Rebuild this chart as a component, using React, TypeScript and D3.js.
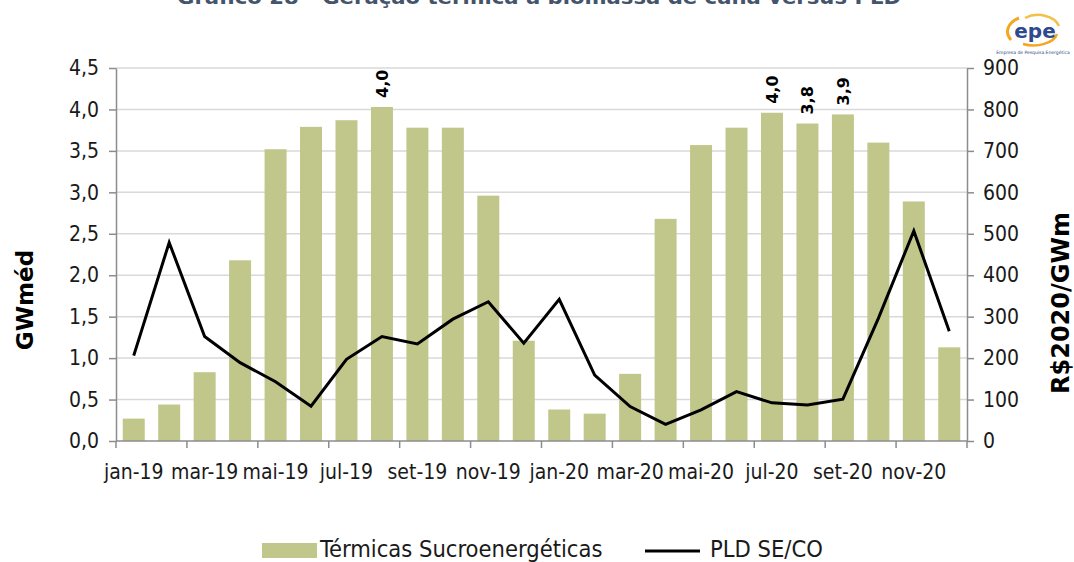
import { useEffect, useRef } from "react";
import * as d3 from "d3";

const months = [
    "jan-19", "fev-19", "mar-19", "abr-19", "mai-19", "jun-19", "jul-19", "ago-19", "set-19", "out-19", "nov-19", "dez-19",
    "jan-20", "fev-20", "mar-20", "abr-20", "mai-20", "jun-20", "jul-20", "ago-20", "set-20", "out-20", "nov-20", "dez-20",
];
// GWméd
const termicas = [
    0.27, 0.44, 0.83, 2.18, 3.52, 3.79, 3.87, 4.03, 3.78, 3.78, 2.96, 1.21,
    0.38, 0.33, 0.81, 2.68, 3.57, 3.78, 3.96, 3.83, 3.94, 3.60, 2.89, 1.13,
];
// R$2020/GWm
const pld = [
    206, 479, 252, 189, 143, 84, 197, 252, 234, 294, 336, 236,
    342, 159, 83, 40, 75, 119, 92, 87, 101, 296, 507, 265,
];
const labeledMonths = ["ago-19", "jul-20", "ago-20", "set-20"];
const leftTicks = [0, 0.5, 1, 1.5, 2, 2.5, 3, 3.5, 4, 4.5];
const rightTicks = [0, 100, 200, 300, 400, 500, 600, 700, 800, 900];

const BAR = "#c1c68b";
const AXIS = "#8c8c8c";
const GRID = "#d9d9d9";
const FONT = "'DejaVu Sans Condensed', 'DejaVu Sans', sans-serif";

export default function App() {
    const svgRef = useRef<SVGSVGElement>(null);

    useEffect(() => {
        if (!svgRef.current) return;
        const svg = d3.select(svgRef.current);
        svg.selectAll("*").remove();

        const W = 1074, H = 562;
        const left = 116, right = 967, top = 68, bottom = 441;

        const x = d3.scaleBand().domain(months).range([left, right]).paddingInner(0.38).paddingOuter(0.19);
        const yL = d3.scaleLinear().domain([0, 4.5]).range([bottom, top]);
        const yR = d3.scaleLinear().domain([0, 900]).range([bottom, top]);
        const fmt = (v: number) => d3.format(".1f")(v).replace(".", ",");
        const cx = (m: string) => x(m)! + x.bandwidth() / 2;

        svg.attr("width", W).attr("height", H);
        svg.append("rect").attr("width", W).attr("height", H).attr("fill", "#fff");

        // Title (cut off at the top, as in the source)
        svg.append("text")
            .attr("x", 539).attr("y", 4)
            .attr("text-anchor", "middle")
            .attr("font-family", "'DejaVu Sans', sans-serif")
            .attr("font-weight", "bold")
            .attr("font-size", 20)
            .attr("fill", "#44546a")
            .attr("textLength", 724)
            .attr("lengthAdjust", "spacingAndGlyphs")
            .text("Gráfico 28 - Geração térmica a biomassa de cana versus PLD");

        // Logo
        const logo = svg.append("g").attr("transform", "translate(1033,32)");
        logo.append("path").attr("d", "M -14 -14 A 24 16 0 0 0 -22 8").attr("fill", "none").attr("stroke", "#f5a623").attr("stroke-width", 3);
        logo.append("path").attr("d", "M -8 -14 A 22 16 0 0 1 26 -6").attr("fill", "none").attr("stroke", "#f5c04a").attr("stroke-width", 2.5);
        logo.append("path").attr("d", "M 24 2 A 24 14 0 0 1 -10 12").attr("fill", "none").attr("stroke", "#f5a623").attr("stroke-width", 2.5);
        logo.append("text").attr("x", 2).attr("y", 6).attr("text-anchor", "middle")
            .attr("font-family", "'DejaVu Sans', sans-serif").attr("font-weight", "bold").attr("font-size", 20)
            .attr("fill", "#2e4a8c").text("epe");
        logo.append("text").attr("x", 0).attr("y", 22).attr("text-anchor", "middle")
            .attr("font-family", "'DejaVu Sans', sans-serif").attr("font-size", 4.5)
            .attr("fill", "#2e4a8c").text("Empresa de Pesquisa Energética");

        // Grid
        svg.append("g").selectAll("line").data(leftTicks.filter(t => t > 0)).join("line")
            .attr("x1", left).attr("x2", right)
            .attr("y1", d => yL(d)).attr("y2", d => yL(d))
            .attr("stroke", GRID).attr("stroke-width", 1.5);

        // Bars
        svg.append("g").selectAll("rect").data(termicas).join("rect")
            .attr("x", (_, i) => x(months[i])!)
            .attr("y", d => yL(d))
            .attr("width", x.bandwidth())
            .attr("height", d => bottom - yL(d))
            .attr("fill", BAR);

        // Bar labels
        svg.append("g").selectAll("text").data(labeledMonths).join("text")
            .attr("transform", m => `translate(${cx(m)},${yL(termicas[months.indexOf(m)]) - 9}) rotate(-90)`)
            .attr("dy", "0.36em")
            .attr("font-family", "'DejaVu Sans', sans-serif")
            .attr("font-weight", "bold")
            .attr("font-size", 16)
            .attr("fill", "#000")
            .text(m => fmt(termicas[months.indexOf(m)]));

        // Line
        const line = d3.line<number>().x((_, i) => cx(months[i])).y(d => yR(d));
        svg.append("path").datum(pld)
            .attr("fill", "none").attr("stroke", "#000").attr("stroke-width", 3)
            .attr("stroke-linejoin", "miter").attr("d", line);

        // Axes
        const axisL = svg.append("g").attr("transform", `translate(${left},0)`)
            .call(d3.axisLeft(yL).tickValues(leftTicks).tickSize(7).tickSizeOuter(0).tickPadding(10).tickFormat(d => fmt(+d)));
        const axisR = svg.append("g").attr("transform", `translate(${right},0)`)
            .call(d3.axisRight(yR).tickValues(rightTicks).tickSize(7).tickSizeOuter(0).tickPadding(9));
        [axisL, axisR].forEach(a => {
            a.select(".domain").attr("stroke", AXIS).attr("stroke-width", 1.5);
            a.selectAll(".tick line").attr("stroke", AXIS).attr("stroke-width", 1.5);
            a.selectAll(".tick text").attr("font-family", FONT).attr("font-size", 21).attr("fill", "#1a1a1a");
        });

        // Bottom axis
        const xa = svg.append("g");
        xa.append("line").attr("x1", left).attr("x2", right).attr("y1", bottom).attr("y2", bottom)
            .attr("stroke", AXIS).attr("stroke-width", 1.5);
        const boundaries = d3.range(0, months.length + 1, 2).map(i => left + i * x.step());
        xa.selectAll("line.t").data(boundaries).join("line").attr("class", "t")
            .attr("x1", d => d).attr("x2", d => d).attr("y1", bottom).attr("y2", bottom + 7)
            .attr("stroke", AXIS).attr("stroke-width", 1.5);
        xa.selectAll("text").data(months.filter((_, i) => i % 2 === 0)).join("text")
            .attr("x", m => cx(m)).attr("y", 479)
            .attr("text-anchor", "middle")
            .attr("font-family", FONT).attr("font-size", 21).attr("fill", "#1a1a1a")
            .text(m => m);

        // Axis titles
        svg.append("text")
            .attr("transform", "translate(33,300) rotate(-90)")
            .attr("text-anchor", "middle")
            .attr("font-family", "'DejaVu Sans', sans-serif").attr("font-weight", "bold").attr("font-size", 23)
            .attr("fill", "#000").text("GWméd");
        svg.append("text")
            .attr("transform", "translate(1069,303) rotate(-90)")
            .attr("text-anchor", "middle")
            .attr("font-family", "'DejaVu Sans', sans-serif").attr("font-weight", "bold").attr("font-size", 24)
            .attr("fill", "#000").text("R$2020/GWm");

        // Legend
        const lg = svg.append("g");
        lg.append("rect").attr("x", 262).attr("y", 543).attr("width", 55).attr("height", 15).attr("fill", BAR);
        lg.append("text").attr("x", 320).attr("y", 557)
            .attr("font-family", FONT).attr("font-size", 23.5).attr("fill", "#1a1a1a")
            .text("Térmicas Sucroenergéticas");
        lg.append("line").attr("x1", 645).attr("x2", 700).attr("y1", 551).attr("y2", 551)
            .attr("stroke", "#000").attr("stroke-width", 3);
        lg.append("text").attr("x", 710).attr("y", 557)
            .attr("font-family", FONT).attr("font-size", 23.5).attr("fill", "#1a1a1a")
            .text("PLD SE/CO");
    }, []);

    return (
        <div style={{ position: "absolute", top: 0, left: 0 }}>
            <svg ref={svgRef} style={{ display: "block" }}></svg>
        </div>
    );
}
